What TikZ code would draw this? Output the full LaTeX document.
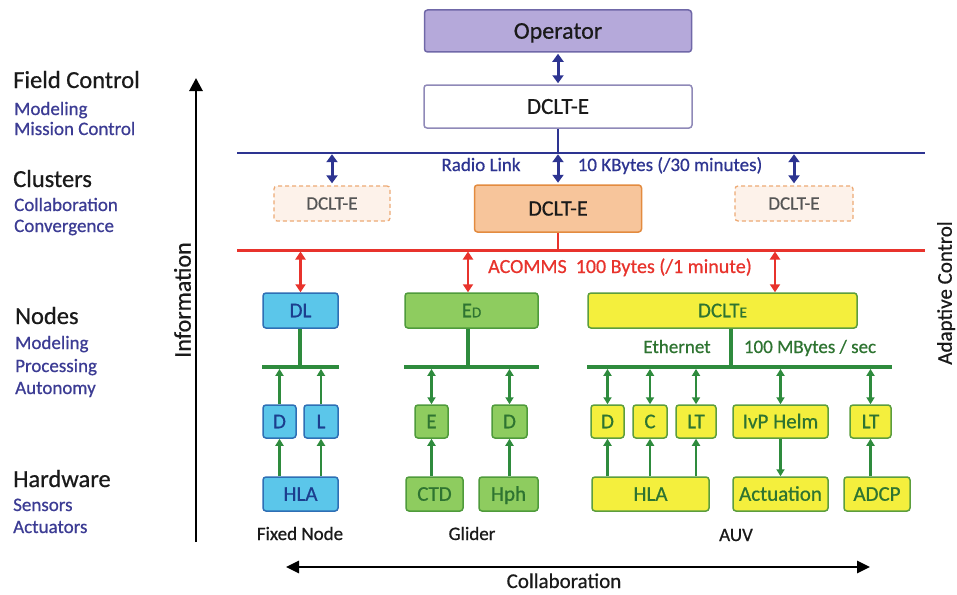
\documentclass[tikz,border=0pt]{standalone}
\usepackage{fontspec}
\setmainfont{Carlito}[FakeBold=0.6]
\usetikzlibrary{arrows.meta}
\definecolor{hdrc}{HTML}{1A1A1A}
\definecolor{subc}{HTML}{3C3C94}
\definecolor{navy}{HTML}{2D3491}
\definecolor{redc}{HTML}{E8332C}
\definecolor{gline}{HTML}{2E8B3D}
\definecolor{opf}{HTML}{B5A9DA}
\definecolor{opd}{HTML}{7068A8}
\definecolor{topd}{HTML}{8F89B8}
\definecolor{cf}{HTML}{F7C59B}
\definecolor{cd}{HTML}{E38B3F}
\definecolor{df}{HTML}{FDF2EA}
\definecolor{dd}{HTML}{EDAA75}
\definecolor{dtext}{HTML}{555555}
\definecolor{bf}{HTML}{5BC6EA}
\definecolor{bd}{HTML}{2E6FB5}
\definecolor{bt}{HTML}{1C3E8E}
\definecolor{gf}{HTML}{8ECC5F}
\definecolor{gd}{HTML}{4F9B3B}
\definecolor{gt}{HTML}{2E7431}
\definecolor{yf}{HTML}{F4EF3D}
\definecolor{yd}{HTML}{5C9E3D}
\newcommand\fsz[1]{\fontsize{#1}{#1}\selectfont}
\begin{document}
\begin{tikzpicture}[x=1pt,y=-1pt,
  hdr/.style={anchor=base west, inner sep=0pt, font=\fsz{24.5}, text=hdrc},
  sub/.style={anchor=base west, inner sep=0pt, font=\fsz{19}, text=subc},
  bx/.style={rounded corners=3pt, line width=1.5pt, inner sep=0pt, align=center, text depth=0pt},
  opbox/.style={bx, draw=opd, fill=opf, font=\fsz{24}, text=hdrc, text height=15.4pt},
  topbox/.style={bx, draw=topd, fill=white, font=\fsz{23}, text=hdrc, text height=14.8pt},
  cbox/.style={bx, draw=cd, fill=cf, font=\fsz{22}, text=hdrc, text height=14.2pt},
  dbox/.style={bx, draw=dd, fill=df, dash pattern=on 4pt off 3pt, line width=1.3pt, font=\fsz{19}, text=dtext, text height=12.2pt},
  bluebox/.style={bx, draw=bd, fill=bf, font=\fsz{21}, text=bt, text height=13.5pt},
  greenbox/.style={bx, draw=gd, fill=gf, font=\fsz{21}, text=gt, text height=13.5pt},
  yelbox/.style={bx, draw=yd, fill=yf, font=\fsz{21}, text=gt, text height=13.5pt},
  barrow/.style={draw=navy, line width=3pt, {Triangle[length=8pt,width=11pt]}-{Triangle[length=8pt,width=11pt]}},
  rarrow/.style={draw=redc, line width=2.5pt, {Triangle[length=8pt,width=10pt]}-{Triangle[length=8pt,width=10pt]}},
  ga/.style={draw=gline, line width=2.3pt, -{Triangle[length=7pt,width=8pt]}},
  gda/.style={draw=gline, line width=2.3pt, {Triangle[length=7pt,width=8pt]}-{Triangle[length=7pt,width=8pt]}},
  gl/.style={draw=gline, line width=3.8pt},
  bus/.style={draw=gline, line width=3.8pt},
  bigarrow/.style={draw=black, line width=2.8pt, -{Triangle[length=13pt,width=13pt]}},
  bigarrows/.style={draw=black, line width=2.8pt, {Triangle[length=13pt,width=12pt]}-{Triangle[length=13pt,width=12pt]}},
  gtxt/.style={anchor=base, inner sep=0pt, font=\fsz{19}, text=gt},
  lab/.style={anchor=base, inner sep=0pt, font=\fsz{19}, text=hdrc},
]
\fill[white] (0,0) rectangle (957,594);
\useasboundingbox (0,0) rectangle (957,594);

% left labels
\node[hdr] (h1) at (13,88) {Field Control};
\node[sub] (s1) at (14,115) {Modeling};
\node[sub] (s2) at (14,135) {Mission Control};
\node[hdr] (h2) at (13,187) {Clusters};
\node[sub] (s3) at (14,211) {Collaboration};
\node[sub] (s4) at (14,232) {Convergence};
\node[hdr] (h3) at (15,324) {Nodes};
\node[sub] (s5) at (15,349) {Modeling};
\node[sub] (s6) at (15,372) {Processing};
\node[sub] (s7) at (15,394) {Autonomy};
\node[hdr] (h4) at (13,487) {Hardware};
\node[sub] (s8) at (13,511) {Sensors};
\node[sub] (s9) at (13,533) {Actuators};

% information arrow
\coordinate (ib) at (196,542);
\coordinate (it) at (196,78);
\draw[bigarrow] (ib) -- (it);
\node[rotate=90, font=\fsz{24}, text=hdrc, inner sep=0pt, text height=15.4pt, text depth=0pt] (info) at (183,300) {Information};
\node[rotate=90, font=\fsz{21}, text=hdrc, inner sep=0pt, text height=13.5pt, text depth=0pt] (adc) at (945,293) {Adaptive Control};

% top
\node[opbox, minimum width=267pt, minimum height=42pt] (op) at (558,31) {Operator};
\node[topbox, minimum width=268pt, minimum height=43pt] (dtop) at (558,106.5) {DCLT-E};
\node[dbox, minimum width=116pt, minimum height=35pt] (cl) at (332,203.5) {DCLT-E};
\node[cbox, minimum width=167pt, minimum height=47pt] (cc) at (558,208.5) {DCLT-E};
\node[dbox, minimum width=118pt, minimum height=35pt] (cr) at (794,203.5) {DCLT-E};

\coordinate (rl) at (237,153); \coordinate (rr) at (925,153);
\coordinate (al) at (237,250); \coordinate (ar) at (925,250);
\draw[navy, line width=2.5pt] (rl) -- (rr);
\draw[redc, line width=3pt] (al) -- (ar);
\draw[barrow, shorten <=1pt, shorten >=1pt] (op.south) -- (dtop.north);
\draw[navy, line width=2.5pt] (dtop.south) -- (dtop.south |- rl);
\draw[barrow, shorten <=1.2pt, shorten >=2pt] (cl.north |- rl) -- (cl.north);
\draw[barrow, shorten <=1.2pt, shorten >=1.5pt] (cc.north |- rl) -- (cc.north);
\draw[barrow, shorten <=1.2pt, shorten >=2pt] (cr.north |- rl) -- (cr.north);
\draw[redc, line width=2.5pt] (cc.south) -- (cc.south |- al);

\node[anchor=base, inner sep=0pt, font=\fsz{19}, text=navy] (rlt) at (481,171) {Radio Link};
\node[anchor=base, inner sep=0pt, font=\fsz{19}, text=navy] (kb) at (670,171) {10 KBytes (/30 minutes)};
\node[anchor=base, inner sep=0pt, font=\fsz{20}, text=redc] (acm) at (620,273) {ACOMMS\hspace{9pt}100 Bytes (/1 minute)};

% node row
\node[bluebox, minimum width=75pt, minimum height=35pt] (dl) at (300.5,310.5) {DL};
\node[greenbox, minimum width=133pt, minimum height=35pt] (ed) at (471.5,310.5) {E{\fsz{15}D}};
\node[yelbox, minimum width=269pt, minimum height=35pt] (dclt) at (722.5,310.5) {DCLT{\fsz{15}E}};

\coordinate (fb) at (300,367);
\coordinate (gb) at (468,367);
\coordinate (ab) at (731,367);
\coordinate (ax) at (775,250);
\draw[rarrow, shorten <=1.5pt] (dl.north |- al) -- (dl.north);
\draw[rarrow, shorten <=1.5pt] (gb |- al) -- (ed.north -| gb);
\draw[rarrow, shorten <=1.5pt] (ax) -- (dclt.north -| ax);

% row 2
\node[bluebox, minimum width=33pt, minimum height=33pt] (fD) at (279.5,421.5) {D};
\node[bluebox, minimum width=34pt, minimum height=33pt] (fL) at (321,421.5) {L};
\node[greenbox, minimum width=33pt, minimum height=33pt] (gE) at (431.5,421.5) {E};
\node[greenbox, minimum width=35pt, minimum height=33pt] (gD) at (509.5,421.5) {D};
\node[yelbox, minimum width=33pt, minimum height=33pt] (aD) at (607.5,421.5) {D};
\node[yelbox, minimum width=34pt, minimum height=33pt] (aC) at (650,421.5) {C};
\node[yelbox, minimum width=40pt, minimum height=33pt] (aLT) at (696,421.5) {LT};
\node[yelbox, minimum width=95pt, minimum height=33pt] (aIvP) at (780.5,421.5) {IvP Helm};
\node[yelbox, minimum width=41pt, minimum height=33pt] (aLT2) at (870.5,421.5) {LT};

% row 3
\node[bluebox, minimum width=75pt, minimum height=34pt] (fH) at (300.5,494) {HLA};
\node[greenbox, minimum width=57pt, minimum height=34pt] (gC) at (434.5,494) {CTD};
\node[greenbox, minimum width=59pt, minimum height=34pt] (gH) at (508.5,494) {Hph};
\node[yelbox, minimum width=117pt, minimum height=34pt] (aH) at (650.5,494) {HLA};
\node[yelbox, minimum width=95pt, minimum height=34pt] (aA) at (780.5,494) {Actuation};
\node[yelbox, minimum width=66pt, minimum height=34pt] (aP) at (877,494) {ADCP};

% buses
\draw[bus] (fb -| dl.west) -- (fb -| dl.east);
\draw[bus] (gb -| ed.west) -- (gb -| ed.east);
\draw[bus] (ab -| dclt.west) -- (ab -| aLT2.east);
\draw[gl] (dl.south -| fb) -- (fb);
\draw[gl] (ed.south -| gb) -- (gb);
\draw[gl] (dclt.south -| ab) -- (ab);

% fixed node arrows
\draw[ga, shorten >=1.9pt] (fD.north) -- (fD.north |- fb);
\draw[ga, shorten >=1.9pt] (fL.north) -- (fL.north |- fb);
\draw[ga] (fH.north -| fD) -- (fD.south);
\draw[ga] (fH.north -| fL) -- (fL.south);
% glider arrows
\draw[gda, shorten <=1.9pt] (gE.north |- gb) -- (gE.north);
\draw[gda, shorten <=1.9pt] (gD.north |- gb) -- (gD.north);
\draw[ga] (gC.north -| gE) -- (gE.south);
\draw[ga] (gH.north -| gD) -- (gD.south);
% auv arrows
\foreach \n in {aD,aC,aLT,aIvP,aLT2}
  \draw[gda, shorten <=1.9pt] (\n.north |- ab) -- (\n.north);
\draw[ga] (aH.north -| aD) -- (aD.south);
\draw[ga] (aH.north -| aC) -- (aC.south);
\draw[ga] (aH.north -| aLT) -- (aLT.south);
\draw[ga] (aIvP.south) -- (aA.north);
\draw[ga] (aP.north -| aLT2) -- (aLT2.south);

\node[gtxt] (eth) at (677,353) {Ethernet};
\node[gtxt] (mbs) at (810,353) {100 MBytes / sec};

\node[lab] (fnl) at (300,540) {Fixed Node};
\node[lab] (gll) at (472,540) {Glider};
\node[lab] (auvl) at (736,541) {AUV};

% collaboration
\coordinate (cl0) at (286,567);
\coordinate (cr0) at (870,567);
\draw[bigarrows] (cl0) -- (cr0);
\node[anchor=base, inner sep=0pt, font=\fsz{21}, text=hdrc] (coll) at (564,588) {Collaboration};
\end{tikzpicture}
\end{document}
